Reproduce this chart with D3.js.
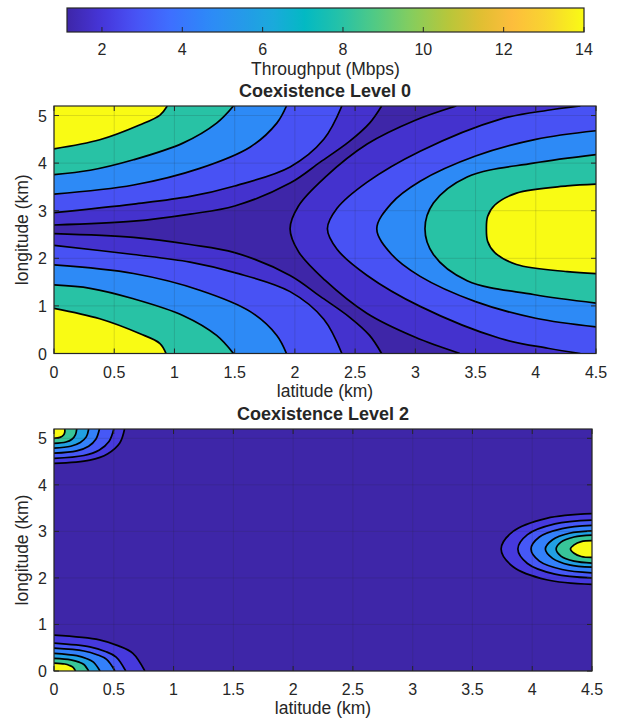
<!DOCTYPE html>
<html>
<head>
<meta charset="utf-8">
<script src="https://d3js.org/d3.v7.min.js"></script>
<style>
  body { margin: 0; background: #fff; }
  text { font-family: "Liberation Sans", Arial, sans-serif; fill: #262626; }
</style>
</head>
<body>
<div id="chart"></div>
<script>
// ---- data -------------------------------------------------------------
let cbRange = [1.13, 14];              // colour bar limits (Mbps)
let cbTicks = [2, 4, 6, 8, 10, 12, 14];
let xTicks = [0, 0.5, 1, 1.5, 2, 2.5, 3, 3.5, 4, 4.5];
let yTicks = [0, 1, 2, 3, 4, 5];
let xMax = 4.5, yMax = 5.2;

// Coexistence Level 0: contour lines [latitude, longitude]
// each level: [top-left source, bottom-left source, right source]
let l0_c1 = [
  [[0,2.70],[0.66,2.78],[1.13,2.93],[1.5,3.1],[1.96,3.58],[2.21,4.02],[2.45,4.45],[2.62,4.84],[2.72,5.2]],
  [[0,2.52],[0.66,2.44],[1.13,2.29],[1.5,2.12],[1.96,1.64],[2.21,1.2],[2.45,0.77],[2.62,0.38],[2.72,0]],
  [[3.34,5.2],[3.0,4.9],[2.6,4.4],[2.25,3.7],[2.03,3.1],[1.96,2.62],[2.03,2.14],[2.25,1.54],[2.6,0.84],[3.0,0.34],[3.37,0]]
];
let l0_c2 = [
  [[0,2.96],[0.66,3.14],[1.13,3.30],[1.5,3.52],[1.96,3.92],[2.24,4.5],[2.39,5.2]],
  [[0,2.27],[0.66,2.08],[1.13,1.92],[1.5,1.70],[1.96,1.30],[2.24,0.72],[2.39,0]],
  [[4.37,5.2],[4.1,5.11],[3.7,4.92],[3.04,4.25],[2.6,3.6],[2.35,3.05],[2.27,2.62],[2.35,2.19],[2.6,1.64],[3.04,0.99],[3.7,0.32],[4.1,0.11],[4.37,0]]
];
let l0_c3 = [
  [[0,3.35],[0.66,3.54],[1.21,3.89],[1.63,4.34],[1.85,4.84],[1.93,5.2]],
  [[0,1.86],[0.66,1.68],[1.21,1.33],[1.63,0.88],[1.85,0.38],[1.93,0]],
  [[4.5,4.68],[4.0,4.5],[3.5,4.15],[3.04,3.62],[2.8,3.15],[2.68,2.62],[2.8,2.09],[3.04,1.62],[3.5,1.09],[4.0,0.74],[4.5,0.56]]
];
let l0_c4 = [
  [[0,3.76],[0.3,3.85],[0.66,4.07],[1.07,4.42],[1.35,4.84],[1.49,5.2]],
  [[0,1.44],[0.3,1.37],[0.66,1.15],[1.07,0.80],[1.35,0.38],[1.49,0]],
  [[4.5,4.18],[3.98,4.0],[3.43,3.71],[3.15,3.16],[3.08,2.62],[3.15,2.08],[3.43,1.53],[3.98,1.24],[4.5,1.06]]
];
let l0_c5 = [
  [[0,4.30],[0.38,4.49],[0.71,4.80],[0.88,5.01],[0.94,5.2]],
  [[0,0.95],[0.38,0.73],[0.71,0.42],[0.88,0.21],[0.93,0]],
  [[4.5,3.56],[4.26,3.52],[3.84,3.37],[3.66,3.12],[3.6,2.88],[3.59,2.62],[3.6,2.36],[3.66,2.12],[3.84,1.87],[4.26,1.72],[4.5,1.68]]
];
let l0_fill = [1.8, 2.8, 4.7, 8.0, 14];   // band value inside each contour

// Coexistence Level 2
let l2_c1 = [
  [[0,4.46],[0.3,4.53],[0.45,4.67],[0.55,4.9],[0.59,5.2]],
  [[0,0.77],[0.38,0.67],[0.54,0.54],[0.66,0.38],[0.76,0]],
  [[4.5,3.38],[4.12,3.28],[3.84,3.0],[3.74,2.62],[3.84,2.24],[4.12,1.96],[4.5,1.86]]
];
let l2_c2 = [
  [[0,4.57],[0.25,4.63],[0.38,4.75],[0.46,4.93],[0.50,5.2]],
  [[0,0.60],[0.30,0.52],[0.43,0.42],[0.52,0.30],[0.60,0]],
  [[4.5,3.24],[4.19,3.16],[3.96,2.93],[3.88,2.62],[3.96,2.31],[4.19,2.08],[4.5,2.0]]
];
let l2_c3 = [
  [[0,4.68],[0.19,4.73],[0.29,4.83],[0.35,4.98],[0.38,5.2]],
  [[0,0.49],[0.25,0.43],[0.36,0.35],[0.44,0.25],[0.51,0]],
  [[4.5,3.13],[4.25,3.06],[4.06,2.88],[3.99,2.62],[4.06,2.36],[4.25,2.18],[4.5,2.11]]
];
let l2_c4 = [
  [[0,4.79],[0.14,4.83],[0.22,4.91],[0.27,5.03],[0.29,5.2]],
  [[0,0.38],[0.19,0.33],[0.27,0.27],[0.33,0.19],[0.385,0]],
  [[4.5,3.01],[4.31,2.96],[4.17,2.82],[4.11,2.62],[4.17,2.42],[4.31,2.28],[4.5,2.23]]
];
let l2_c5 = [
  [[0,4.89],[0.1,4.92],[0.15,4.98],[0.18,5.08],[0.19,5.2]],
  [[0,0.27],[0.14,0.24],[0.21,0.19],[0.25,0.14],[0.29,0]],
  [[4.5,2.92],[4.35,2.88],[4.24,2.77],[4.2,2.62],[4.24,2.47],[4.35,2.36],[4.5,2.32]]
];
let l2_c6 = [
  [[0,5.0],[0.05,5.02],[0.08,5.07],[0.09,5.13],[0.09,5.2]],
  [[0,0.17],[0.09,0.15],[0.13,0.12],[0.16,0.08],[0.18,0]],
  [[4.5,2.8],[4.41,2.78],[4.35,2.71],[4.32,2.62],[4.35,2.53],[4.41,2.46],[4.5,2.44]]
];
let l2_fill = [2.1, 3.0, 4.3, 5.8, 8.3, 14];

// parula colour map stops
let parulaT = [0, 0.07, 0.13, 0.2, 0.27, 0.33, 0.4, 0.46, 0.53, 0.6, 0.67, 0.74, 0.8, 0.86, 0.93, 1];
let parulaC = ["#3e26a8", "#4636db", "#4852f4", "#3e6fff", "#2e88f8", "#2797eb", "#1aaadb", "#03b9c3",
               "#26c2a7", "#54ca82", "#88cd5b", "#b9c63a", "#e0bf32", "#fdbd3c", "#f8d62f", "#f9fb14"];

// ---- setup ------------------------------------------------------------
const svg = d3.select("#chart").append("svg").attr("width", 622).attr("height", 722);
const parula = d3.scaleLinear().domain(parulaT).range(parulaC).interpolate(d3.interpolateRgb);
const toT = d3.scaleLinear().domain(cbRange).range([0, 1]).clamp(true);
const colorOf = v => parula(toT(v));
const axisCol = "#262626";
const tickFont = 16, labelFont = 17.5, titleFont = 18;

// ---- colour bar -------------------------------------------------------
const cb = {x0: 67, x1: 584, y0: 8, y1: 32};
const cbx = d3.scaleLinear().domain(cbRange).range([cb.x0, cb.x1]);
const grad = svg.append("defs").append("linearGradient").attr("id", "parula");
d3.range(0, 1.0001, 0.02).forEach(t => {
  grad.append("stop").attr("offset", t).attr("stop-color", parula(t));
});
svg.append("rect").attr("x", cb.x0).attr("y", cb.y0)
  .attr("width", cb.x1 - cb.x0).attr("height", cb.y1 - cb.y0)
  .attr("fill", "url(#parula)").attr("stroke", axisCol).attr("stroke-width", 1.2);
cbTicks.forEach(v => {
  svg.append("line").attr("x1", cbx(v)).attr("x2", cbx(v))
    .attr("y1", cb.y1).attr("y2", cb.y1 - 5).attr("stroke", axisCol);
  svg.append("text").attr("x", cbx(v)).attr("y", 55).attr("text-anchor", "middle")
    .attr("font-size", tickFont).text(v);
});
svg.append("text").attr("x", (cb.x0 + cb.x1) / 2).attr("y", 75).attr("text-anchor", "middle")
  .attr("font-size", labelFont).text("Throughput (Mbps)");

// ---- contour panels ---------------------------------------------------
const P = 2 * (xMax + yMax);
const corners = [[0, 0, 0], [xMax, 0, xMax], [xMax, yMax, xMax + yMax], [0, yMax, 2 * xMax + yMax]];
function perim(p) {
  const [x, y] = p;
  if (y <= 1e-9) return x;
  if (x >= xMax - 1e-9) return xMax + y;
  if (y >= yMax - 1e-9) return xMax + yMax + (xMax - x);
  return 2 * xMax + yMax + (yMax - y);
}
// walk along the frame from a to b, the short way round
function borderWalk(a, b) {
  const ta = perim(a), tb = perim(b);
  const fwd = ((tb - ta) % P + P) % P;
  let res = [];
  if (fwd <= P - fwd) {
    corners.forEach(c => { const d = ((c[2] - ta) % P + P) % P; if (d > 0 && d < fwd) res.push([d, c]); });
  } else {
    corners.forEach(c => { const d = ((ta - c[2]) % P + P) % P; if (d > 0 && d < P - fwd) res.push([d, c]); });
  }
  res.sort((p, q) => p[0] - q[0]);
  return res.map(r => [r[1][0], r[1][1]]);
}

function panel(box, title, levelLines, fills, id) {
  const x = d3.scaleLinear().domain([0, xMax]).range([box.x0, box.x1]);
  const y = d3.scaleLinear().domain([0, yMax]).range([box.y1, box.y0]);
  const g = svg.append("g");
  g.append("clipPath").attr("id", id).append("rect")
    .attr("x", box.x0).attr("y", box.y0).attr("width", box.x1 - box.x0).attr("height", box.y1 - box.y0);
  const area = g.append("g").attr("clip-path", "url(#" + id + ")");
  const line = d3.line().x(d => x(d[0])).y(d => y(d[1])).curve(d3.curveCatmullRom.alpha(0.5));

  area.append("rect").attr("x", box.x0).attr("y", box.y0)
    .attr("width", box.x1 - box.x0).attr("height", box.y1 - box.y0)
    .attr("fill", colorOf(cbRange[0]));

  levelLines.forEach((lines, i) => {
    area.selectAll(null).data(lines).enter().append("path")
      .attr("d", pts => line(pts) + borderWalk(pts[pts.length - 1], pts[0])
        .map(c => "L" + x(c[0]) + "," + y(c[1])).join("") + "Z")
      .attr("fill", colorOf(fills[i]));
  });
  levelLines.forEach(lines => {
    area.selectAll(null).data(lines).enter().append("path")
      .attr("d", line).attr("fill", "none").attr("stroke", "#000").attr("stroke-width", 1.7);
  });

  // grid
  const grid = g.append("g").attr("stroke", axisCol).attr("stroke-opacity", 0.15);
  xTicks.forEach(v => grid.append("line").attr("x1", x(v)).attr("x2", x(v)).attr("y1", box.y0).attr("y2", box.y1));
  yTicks.forEach(v => grid.append("line").attr("x1", box.x0).attr("x2", box.x1).attr("y1", y(v)).attr("y2", y(v)));

  // ticks on all four sides
  const tk = g.append("g").attr("stroke", axisCol);
  xTicks.forEach(v => {
    tk.append("line").attr("x1", x(v)).attr("x2", x(v)).attr("y1", box.y1).attr("y2", box.y1 - 5);
    tk.append("line").attr("x1", x(v)).attr("x2", x(v)).attr("y1", box.y0).attr("y2", box.y0 + 5);
  });
  yTicks.forEach(v => {
    tk.append("line").attr("x1", box.x0).attr("x2", box.x0 + 5).attr("y1", y(v)).attr("y2", y(v));
    tk.append("line").attr("x1", box.x1).attr("x2", box.x1 - 5).attr("y1", y(v)).attr("y2", y(v));
  });
  g.append("rect").attr("x", box.x0).attr("y", box.y0)
    .attr("width", box.x1 - box.x0).attr("height", box.y1 - box.y0)
    .attr("fill", "none").attr("stroke", axisCol).attr("stroke-width", 1.2);

  // labels
  xTicks.forEach(v => g.append("text").attr("x", x(v)).attr("y", box.y1 + 24)
    .attr("text-anchor", "middle").attr("font-size", tickFont).text(v));
  yTicks.forEach(v => g.append("text").attr("x", box.x0 - 7).attr("y", y(v) + 6)
    .attr("text-anchor", "end").attr("font-size", tickFont).text(v));
  g.append("text").attr("x", (box.x0 + box.x1) / 2).attr("y", box.y1 + 43)
    .attr("text-anchor", "middle").attr("font-size", labelFont).text("latitude (km)");
  g.append("text").attr("transform", "translate(28," + (box.y0 + box.y1) / 2 + ") rotate(-90)")
    .attr("text-anchor", "middle").attr("font-size", labelFont).text("longitude (km)");
  g.append("text").attr("x", (box.x0 + box.x1) / 2).attr("y", box.y0 - 9)
    .attr("text-anchor", "middle").attr("font-size", titleFont).attr("font-weight", "bold").text(title);
}

panel({x0: 54, x1: 596, y0: 106, y1: 353.5}, "Coexistence Level 0",
      [l0_c1, l0_c2, l0_c3, l0_c4, l0_c5], l0_fill, "clip0");
panel({x0: 54, x1: 592, y0: 429, y1: 671}, "Coexistence Level 2",
      [l2_c1, l2_c2, l2_c3, l2_c4, l2_c5, l2_c6], l2_fill, "clip2");
</script>
</body>
</html>
